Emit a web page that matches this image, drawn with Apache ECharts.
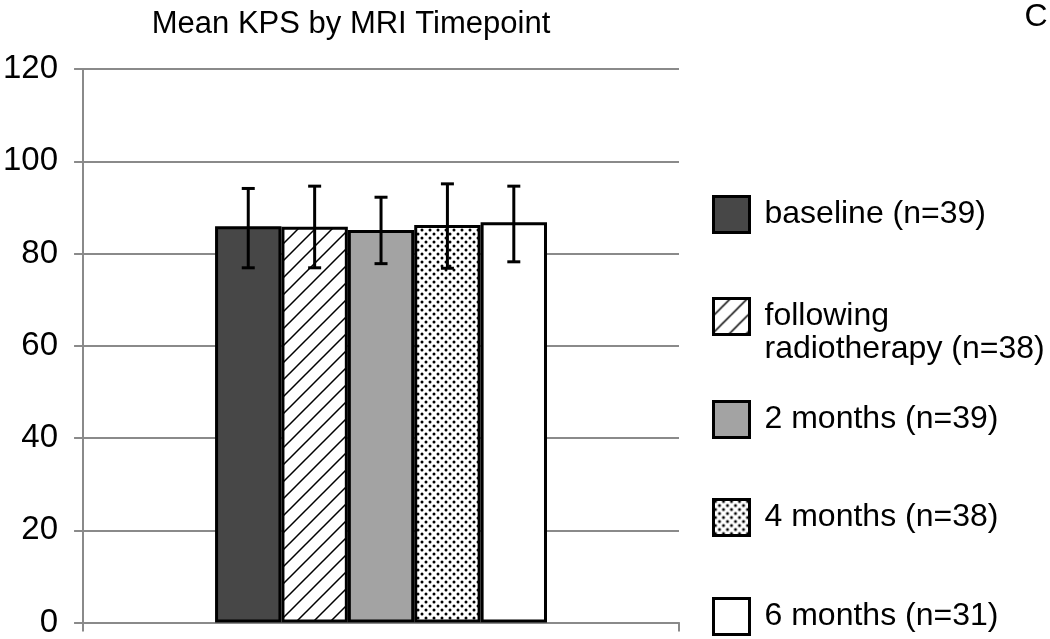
<!DOCTYPE html>
<html>
<head>
<meta charset="utf-8">
<script src="https://cdn.jsdelivr.net/npm/echarts@6/dist/echarts.min.js"></script>
<style>
  html, body { margin: 0; padding: 0; background: #fff; }
  #chart { width: 1050px; height: 639px; }
</style>
</head>
<body>
<div id="chart"></div>
<script>
// values
const timepoints = ['baseline (n=39)', 'following\nradiotherapy (n=38)', '2 months (n=39)', '4 months (n=38)', '6 months (n=31)']
const meanKps = [85.9, 85.8, 85.1, 86.2, 86.8]
const errLow = [76.9, 76.9, 77.8, 76.8, 78.2]
const errHigh = [94.1, 94.6, 92.2, 95.1, 94.6]
const categories = ['']

const FONT = '"Liberation Sans", Arial, Helvetica, sans-serif'
const catGap = 0.443

// fill patterns
function hatch () {
  const c = document.createElement('canvas')
  c.width = 17; c.height = 17
  const g = c.getContext('2d')
  g.fillStyle = '#fff'
  g.fillRect(0, 0, 17, 17)
  g.strokeStyle = '#000'
  g.lineWidth = 1.5
  g.beginPath()
  g.moveTo(-2, 19); g.lineTo(19, -2)
  g.moveTo(-2, 2); g.lineTo(2, -2)
  g.moveTo(15, 19); g.lineTo(19, 15)
  g.stroke()
  return { image: c, repeat: 'repeat' }
}
function dots () {
  const c = document.createElement('canvas')
  c.width = 8; c.height = 8
  const g = c.getContext('2d')
  g.fillStyle = '#fff'
  g.fillRect(0, 0, 8, 8)
  g.fillStyle = '#000'
  g.beginPath(); g.arc(2, 2, 1.5, 0, Math.PI * 2); g.fill()
  g.beginPath(); g.arc(6, 6, 1.5, 0, Math.PI * 2); g.fill()
  return { image: c, repeat: 'repeat' }
}

const fills = ['#474747', hatch(), '#a3a3a3', dots(), '#ffffff']
const legendTops = [195, 267, 400, 498, 597]

const chart = echarts.init(document.getElementById('chart'))

const barSeries = timepoints.map((name, i) => ({
  name: name,
  type: 'bar',
  barGap: '0%',
  barCategoryGap: (catGap * 100) + '%',
  itemStyle: { color: fills[i], borderColor: '#000', borderWidth: 3 },
  data: [meanKps[i]]
}))

const errData = timepoints.map((n, i) => [0, errLow[i], errHigh[i], i])

const option = {
  backgroundColor: '#fff',
  animation: false,
  graphic: [
    {
      type: 'text', x: 351, y: 24,
      style: { text: 'Mean KPS by MRI Timepoint', font: '31px ' + FONT, fill: '#000', textAlign: 'center', textVerticalAlign: 'middle' }
    },
    {
      type: 'text', x: 1036, y: 17,
      style: { text: 'C', font: '32px ' + FONT, fill: '#000', textAlign: 'center', textVerticalAlign: 'middle' }
    }
  ],
  grid: { left: 83, right: 371, top: 69, bottom: 10 },
  legend: timepoints.map((name, i) => ({
    data: [name],
    left: 712,
    top: legendTops[i],
    orient: 'vertical',
    padding: 0,
    itemWidth: 36,
    itemHeight: 36,
    icon: 'rect',
    selectedMode: false,
    // two-line entry: blank first line so the icon sits beside "following"
    formatter: i === 1 ? '\n{name}' : '{name}',
    itemStyle: { borderColor: '#000', borderWidth: 3 },
    textStyle: {
      color: '#000',
      fontFamily: FONT,
      fontSize: 32,
      lineHeight: 33,
      padding: [0, 0, 0, 10]
    }
  })),
  xAxis: {
    type: 'category',
    data: categories,
    axisLine: { lineStyle: { color: '#8a8a8a', width: 2 } },
    axisTick: { show: true, length: 9, lineStyle: { color: '#8a8a8a', width: 2 } },
    axisLabel: { show: false }
  },
  yAxis: {
    type: 'value',
    min: 0,
    max: 120,
    interval: 20,
    axisLine: { show: true, lineStyle: { color: '#8a8a8a', width: 2 } },
    axisTick: { show: true, length: 9, lineStyle: { color: '#8a8a8a', width: 2 } },
    axisLabel: { color: '#000', fontFamily: FONT, fontSize: 33, margin: 25 },
    splitLine: { lineStyle: { color: '#8a8a8a', width: 2 } }
  },
  series: barSeries.concat([{
    name: 'error',
    type: 'custom',
    z: 5,
    encode: { x: 0, y: [1, 2] },
    data: errData,
    renderItem: function (params, api) {
      const lo = api.coord([api.value(0), api.value(1)])
      const hi = api.coord([api.value(0), api.value(2)])
      const band = api.size([1, 0])[0]
      const bw = band * (1 - catGap) / timepoints.length
      const x = lo[0] + (api.value(3) - (timepoints.length - 1) / 2) * bw
      const cap = 6.5
      const st = { stroke: '#000', lineWidth: 3 }
      return {
        type: 'group',
        children: [
          { type: 'line', shape: { x1: x, y1: lo[1], x2: x, y2: hi[1] }, style: st },
          { type: 'line', shape: { x1: x - cap, y1: lo[1], x2: x + cap, y2: lo[1] }, style: st },
          { type: 'line', shape: { x1: x - cap, y1: hi[1], x2: x + cap, y2: hi[1] }, style: st }
        ]
      }
    }
  }])
}

chart.setOption(option)
</script>
</body>
</html>
